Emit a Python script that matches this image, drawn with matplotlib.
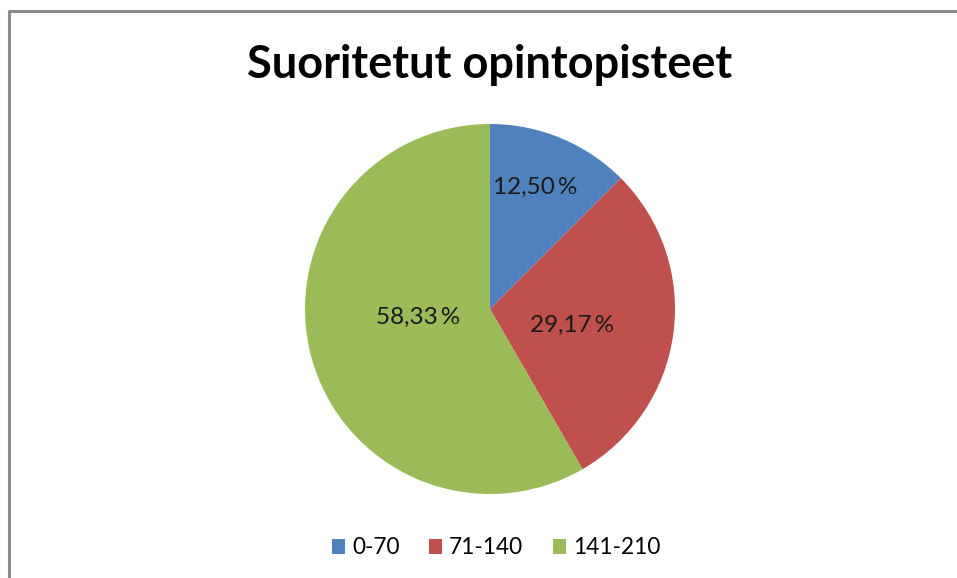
import matplotlib
matplotlib.use('Agg')
import matplotlib.pyplot as plt
import numpy as np
from matplotlib.lines import Line2D
from matplotlib.patches import Patch

# Data
categories = ['0-70', '71-140', '141-210']
counts = [3, 7, 14]
colours = ['#4F81BD', '#C0504D', '#9BBB59']
title = 'Suoritetut opintopisteet'

# label placement per slice (Excel "best fit" style): distance from centre, angle shift
label_dist = [0.70, 0.45, 0.39]
label_shift = [2, -4, -8]

plt.rcParams['font.family'] = ['Lato', 'DejaVu Sans']

fig = plt.figure(figsize=(9.57, 5.78), dpi=100)
W, H = 957, 578
cx, cy, r = 490, 309, 185
ax = fig.add_axes([(cx - r) / W, (H - cy - r) / H, 2 * r / W, 2 * r / H])

wedges, _ = ax.pie(counts, colors=colours, startangle=90, counterclock=False,
                   radius=1.0, wedgeprops=dict(linewidth=0))
ax.set_xlim(-1, 1)
ax.set_ylim(-1, 1)
ax.set_aspect('equal')
ax.axis('off')

total = sum(counts)
for w, c, d, s in zip(wedges, counts, label_dist, label_shift):
    ang = np.deg2rad((w.theta1 + w.theta2) / 2 + s)
    pct = f'{100 * c / total:.2f}'.replace('.', ',') + '\u2009%'
    ax.text(d * np.cos(ang), d * np.sin(ang), pct, ha='center', va='center',
            fontsize=17.5, color='#1a1a1a')

fig.text(490 / W, 1 - 65 / H, title, ha='center', va='center',
         fontsize=32.5, fontweight='bold', color='black')

handles = [Patch(facecolor=col, edgecolor='none') for col in colours]
fig.legend(handles, categories, loc='center', bbox_to_anchor=(496 / W, 1 - 548 / H),
           ncol=3, frameon=False, fontsize=16.3, handlelength=0.6, handleheight=0.6,
           handletextpad=0.3, columnspacing=1.3)

# chart border (left and top edges visible)
fig.add_artist(Line2D([9 / W, 9 / W, 1.0], [0.0, 1 - 11 / H, 1 - 11 / H],
                      transform=fig.transFigure, color='#8a8a8a', linewidth=2.2))

fig.savefig('out.png', dpi=100)
